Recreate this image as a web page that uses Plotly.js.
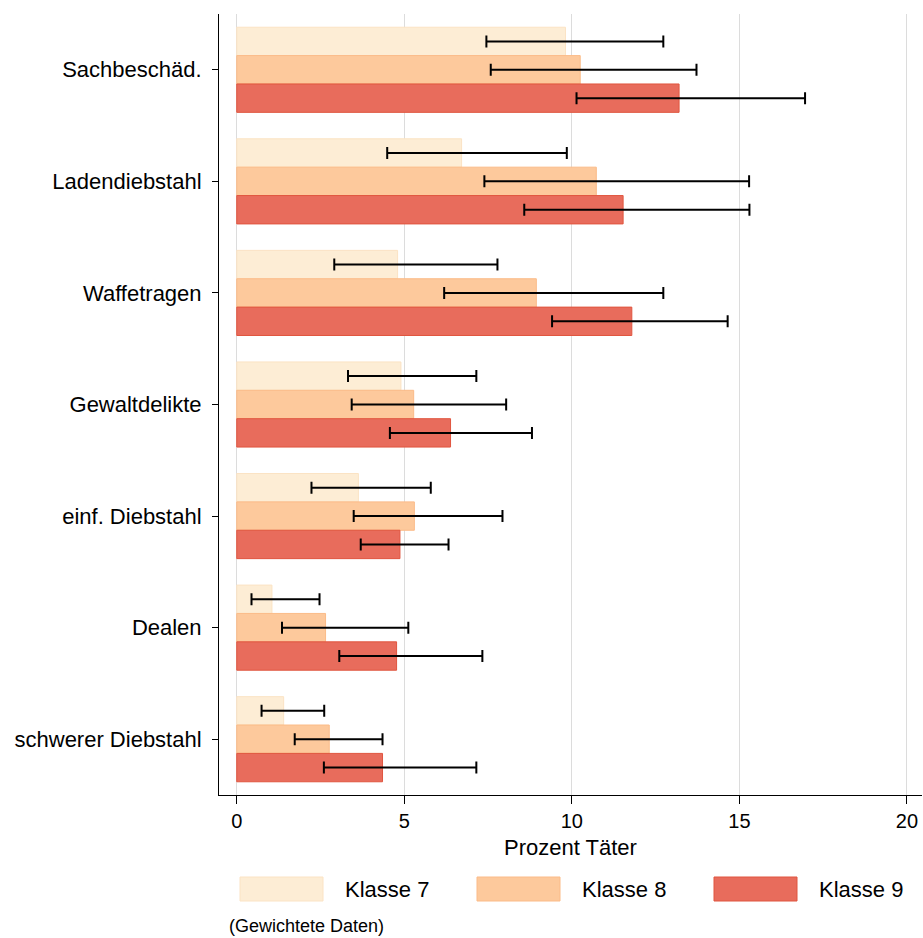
<!DOCTYPE html>
<html>
<head>
<meta charset="utf-8">
<script src="https://cdn.plot.ly/plotly-3.0.1.min.js"></script>
<style>
  html, body { margin: 0; padding: 0; background: #ffffff; }
  #chart { width: 923px; height: 938px; }
</style>
</head>
<body>
<div id="chart"></div>
<script>
// Offence categories, top to bottom
const categories = ["Sachbeschäd.", "Ladendiebstahl", "Waffetragen", "Gewaltdelikte",
                    "einf. Diebstahl", "Dealen", "schwerer Diebstahl"];

// Percentage of offenders per grade, with lower / upper confidence bounds
const klasse7   = [9.81, 6.71, 4.80, 4.90, 3.63, 1.05, 1.40];
const klasse7Lo = [7.45, 4.49, 2.91, 3.32, 2.23, 0.44, 0.74];
const klasse7Hi = [12.73, 9.85, 7.78, 7.15, 5.79, 2.47, 2.61];

const klasse8   = [10.25, 10.73, 8.94, 5.28, 5.30, 2.65, 2.76];
const klasse8Lo = [7.58, 7.39, 6.19, 3.43, 3.49, 1.35, 1.73];
const klasse8Hi = [13.72, 15.29, 12.73, 8.04, 7.93, 5.12, 4.35];

const klasse9   = [13.20, 11.53, 11.79, 6.38, 4.87, 4.77, 4.35];
const klasse9Lo = [10.14, 8.58, 9.41, 4.57, 3.70, 3.06, 2.60];
const klasse9Hi = [16.96, 15.30, 14.65, 8.81, 6.32, 7.33, 7.15];

const seriesNames = ["Klasse 7", "Klasse 8", "Klasse 9"];
const xTicks = [0, 5, 10, 15, 20];

const FONT = "Liberation Sans, Arial, Helvetica, sans-serif";
const fills   = ["#fdedd5", "#fdc99c", "#e86c5c"];
const borders = ["#fbe3c4", "#fbbb88", "#e0553f"];

function makeTrace(name, vals, lo, hi, i) {
  return {
    type: "bar",
    orientation: "h",
    name: name,
    y: categories,
    x: vals,
    marker: { color: fills[i], line: { color: borders[i], width: 1 } },
    error_x: {
      type: "data",
      symmetric: false,
      array: hi.map((h, k) => h - vals[k]),
      arrayminus: lo.map((l, k) => vals[k] - l),
      color: "#000000",
      thickness: 2,
      width: 6
    },
    showlegend: false,
    hoverinfo: "skip"
  };
}

const traces = [
  makeTrace(seriesNames[0], klasse7, klasse7Lo, klasse7Hi, 0),
  makeTrace(seriesNames[1], klasse8, klasse8Lo, klasse8Hi, 1),
  makeTrace(seriesNames[2], klasse9, klasse9Lo, klasse9Hi, 2)
];

// Page geometry of the plotting area (pixels)
const W = 923, H = 938;
const M = { l: 219, r: 1, t: 14, b: 143 };
const plotW = W - M.l - M.r, plotH = H - M.t - M.b;
const px = x => (x - M.l) / plotW;        // page x -> paper x
const py = y => (H - M.b - y) / plotH;    // page y -> paper y

// Legend drawn as wide swatches below the axis title
const legendSwatchX = [240, 477, 714];
const swatchW = 83, swatchTop = 877, swatchBottom = 901;
const shapes = seriesNames.map((n, i) => ({
  type: "rect", xref: "paper", yref: "paper",
  x0: px(legendSwatchX[i]), x1: px(legendSwatchX[i] + swatchW),
  y0: py(swatchBottom), y1: py(swatchTop),
  fillcolor: fills[i], line: { color: borders[i], width: 1 }
}));
const annotations = seriesNames.map((n, i) => ({
  xref: "paper", yref: "paper",
  x: px(legendSwatchX[i] + swatchW + 20), y: py(889),
  xanchor: "left", yanchor: "middle",
  text: n, showarrow: false,
  font: { family: FONT, size: 22, color: "#000000" }
}));
annotations.push({
  xref: "paper", yref: "paper",
  x: px(227), y: py(926),
  xanchor: "left", yanchor: "middle",
  text: "(Gewichtete Daten)", showarrow: false,
  font: { family: FONT, size: 18, color: "#000000" }
});

const layout = {
  width: W, height: H,
  margin: M,
  paper_bgcolor: "#ffffff",
  plot_bgcolor: "#ffffff",
  barmode: "group",
  bargap: 0.237,
  bargroupgap: 0,
  showlegend: false,
  font: { family: FONT, color: "#000000" },
  xaxis: {
    range: [-0.53, 20.45],
    tickvals: xTicks,
    ticktext: xTicks.map(String),
    ticks: "outside", ticklen: 8, tickwidth: 1, tickcolor: "#000000",
    tickfont: { family: FONT, size: 20, color: "#000000" },
    showgrid: true, gridcolor: "#dcdcdc", gridwidth: 1,
    zeroline: false,
    showline: true, linecolor: "#000000", linewidth: 1,
    title: { text: "Prozent Täter", font: { family: FONT, size: 22, color: "#000000" }, standoff: 8 }
  },
  yaxis: {
    type: "category",
    categoryorder: "array",
    categoryarray: categories,
    range: [6.5, -0.5],
    ticks: "outside", ticklen: 6, tickwidth: 1, tickcolor: "#000000",
    tickfont: { family: FONT, size: 22, color: "#000000" },
    ticklabelstandoff: 6,
    showgrid: false,
    zeroline: false,
    showline: true, linecolor: "#000000", linewidth: 1
  },
  shapes: shapes,
  annotations: annotations
};

Plotly.newPlot("chart", traces, layout, { displayModeBar: false, staticPlot: true });
</script>
</body>
</html>
